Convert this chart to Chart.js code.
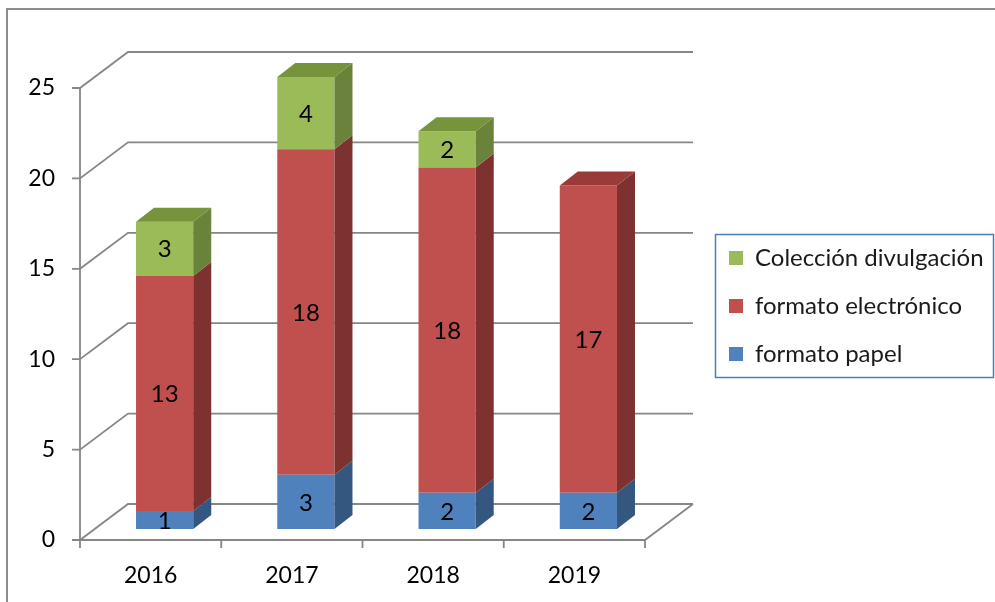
<!DOCTYPE html>
<html>
<head>
<meta charset="utf-8">
<script src="https://cdn.jsdelivr.net/npm/chart.js@4.4.1/dist/chart.umd.min.js"></script>
<style>
    html, body { margin: 0; padding: 0; background: #ffffff; }
    canvas { display: block; }
</style>
</head>
<body>
<canvas id="chart" width="995" height="602"></canvas>
<script>
// Datos del gráfico
const years = ['2016', '2017', '2018', '2019'];
const papel = [1, 3, 2, 2];
const electronico = [13, 18, 18, 17];
const divulgacion = [3, 4, 2, null];
const yMax = 25;
const yStep = 5;

const FONT = 'Lato, "Open Sans", sans-serif';
const GRID = '#868686';

// desplazamientos de profundidad respecto al plano de las barras
const FRONT = { x: -14, y: 11 };
const BACK = { x: 34, y: -25 };
const DEPTH = { x: 18, y: -14 };

// Marco, paredes y suelo (detrás de las barras)
const wallsPlugin = {
    id: 'walls',
    beforeDraw(chart) {
        const ctx = chart.ctx;
        ctx.save();
        ctx.strokeStyle = '#8c8c8c';
        ctx.lineWidth = 2;
        ctx.beginPath();
        ctx.moveTo(7, 602);
        ctx.lineTo(7, 9);
        ctx.lineTo(995, 9);
        ctx.stroke();
        ctx.restore();
    },
    beforeDatasetsDraw(chart) {
        const ctx = chart.ctx;
        const ca = chart.chartArea;
        const ys = chart.scales.y;
        const xs = chart.scales.x;
        const fl = ca.left + FRONT.x, fr = ca.right + FRONT.x;
        const bl = ca.left + BACK.x, br = ca.right + BACK.x;

        ctx.save();
        ctx.strokeStyle = GRID;
        ctx.lineWidth = 1.8;

        ys.ticks.forEach(t => {
            const yp = ys.getPixelForValue(t.value);
            ctx.beginPath();
            ctx.moveTo(fl - 8, yp + FRONT.y);
            ctx.lineTo(fl, yp + FRONT.y);
            ctx.lineTo(bl, yp + BACK.y);
            ctx.lineTo(br, yp + BACK.y);
            ctx.stroke();
        });

        // suelo
        const y0 = ys.getPixelForValue(0);
        ctx.beginPath();
        ctx.moveTo(fl, y0 + FRONT.y);
        ctx.lineTo(fr, y0 + FRONT.y);
        ctx.lineTo(br, y0 + BACK.y);
        ctx.stroke();

        // eje vertical delantero
        ctx.beginPath();
        ctx.moveTo(fl, ys.getPixelForValue(yMax) + FRONT.y);
        ctx.lineTo(fl, y0 + FRONT.y);
        ctx.stroke();

        // marcas del eje x
        const half = (xs.getPixelForValue(1) - xs.getPixelForValue(0)) / 2;
        for (let i = 0; i <= years.length; i++) {
            const px = xs.getPixelForValue(0) - half + i * half * 2 + FRONT.x;
            ctx.beginPath();
            ctx.moveTo(px, y0 + FRONT.y);
            ctx.lineTo(px, y0 + FRONT.y + 8);
            ctx.stroke();
        }
        ctx.restore();
    }
};

// Caras laterales, tapas y etiquetas de las barras
const barsPlugin = {
    id: 'bars3d',
    afterDatasetsDraw(chart) {
        const ctx = chart.ctx;
        const sets = chart.data.datasets;
        ctx.save();
        years.forEach((y, i) => {
            let topIdx = -1;
            sets.forEach((ds, d) => {
                const v = ds.data[i];
                if (v === null || v === 0) return;
                topIdx = d;
                const el = chart.getDatasetMeta(d).data[i];
                const r = el.x + el.width / 2;
                ctx.fillStyle = ds.sideColor;
                ctx.beginPath();
                ctx.moveTo(r, el.y);
                ctx.lineTo(r + DEPTH.x, el.y + DEPTH.y);
                ctx.lineTo(r + DEPTH.x, el.base + DEPTH.y);
                ctx.lineTo(r, el.base);
                ctx.closePath();
                ctx.fill();
            });
            if (topIdx >= 0) {
                const el = chart.getDatasetMeta(topIdx).data[i];
                const l = el.x - el.width / 2, r = el.x + el.width / 2;
                ctx.fillStyle = sets[topIdx].topColor;
                ctx.beginPath();
                ctx.moveTo(l, el.y);
                ctx.lineTo(l + DEPTH.x, el.y + DEPTH.y);
                ctx.lineTo(r + DEPTH.x, el.y + DEPTH.y);
                ctx.lineTo(r, el.y);
                ctx.closePath();
                ctx.fill();
            }
        });

        ctx.fillStyle = '#000000';
        ctx.font = '24px ' + FONT;
        ctx.textAlign = 'center';
        ctx.textBaseline = 'middle';
        sets.forEach((ds, d) => {
            chart.getDatasetMeta(d).data.forEach((el, i) => {
                const v = ds.data[i];
                if (v === null || v === 0) return;
                ctx.fillText(String(v), el.x, (el.y + el.base) / 2 + 1);
            });
        });
        ctx.restore();
    }
};

// Leyenda en su recuadro
const legendBoxPlugin = {
    id: 'legendBox',
    afterLayout(chart) {
        const lg = chart.legend;
        if (!lg) return;
        lg.left = 705;
        lg.right = 995;
        lg.top = 212;
        lg.bottom = 400;
        lg.width = lg.right - lg.left;
        lg.height = lg.bottom - lg.top;
    },
    afterDraw(chart) {
        const ctx = chart.ctx;
        ctx.save();
        ctx.strokeStyle = '#4A7EBB';
        ctx.lineWidth = 1.5;
        ctx.strokeRect(715.5, 234.5, 278, 143);
        ctx.restore();
    }
};

new Chart(document.getElementById('chart'), {
    type: 'bar',
    data: {
        labels: years,
        datasets: [
            {
                label: 'formato papel',
                data: papel,
                backgroundColor: '#4F81BD',
                sideColor: '#34577F',
                topColor: '#3E6797'
            },
            {
                label: 'formato electrónico',
                data: electronico,
                backgroundColor: '#C0504D',
                sideColor: '#7E3230',
                topColor: '#9A3B39'
            },
            {
                label: 'Colección divulgación',
                data: divulgacion,
                backgroundColor: '#9BBB59',
                sideColor: '#6A8239',
                topColor: '#77933C'
            }
        ]
    },
    options: {
        responsive: false,
        animation: false,
        devicePixelRatio: 1,
        layout: {
            padding: { top: 77, right: 336, bottom: 0, left: 0 }
        },
        datasets: {
            bar: {
                categoryPercentage: 1,
                barPercentage: 0.405,
                borderWidth: 0
            }
        },
        plugins: {
            legend: {
                position: 'chartArea',
                reverse: true,
                labels: {
                    boxWidth: 14,
                    boxHeight: 14,
                    padding: 24,
                    color: '#1a1a1a',
                    font: { family: FONT, size: 24 }
                }
            },
            tooltip: { enabled: false }
        },
        scales: {
            x: {
                stacked: true,
                grid: { display: false, drawTicks: false },
                border: { display: false },
                afterFit: s => { s.height = 73; },
                ticks: {
                    color: '#000000',
                    padding: 33,
                    labelOffset: FRONT.x,
                    font: { family: FONT, size: 23 }
                }
            },
            y: {
                stacked: true,
                min: 0,
                max: yMax,
                grid: { display: false, drawTicks: false },
                border: { display: false },
                afterFit: s => { s.width = 94; },
                ticks: {
                    stepSize: yStep,
                    color: '#000000',
                    padding: 39,
                    labelOffset: FRONT.y,
                    font: { family: FONT, size: 23 }
                }
            }
        }
    },
    plugins: [wallsPlugin, barsPlugin, legendBoxPlugin]
});
</script>
</body>
</html>
